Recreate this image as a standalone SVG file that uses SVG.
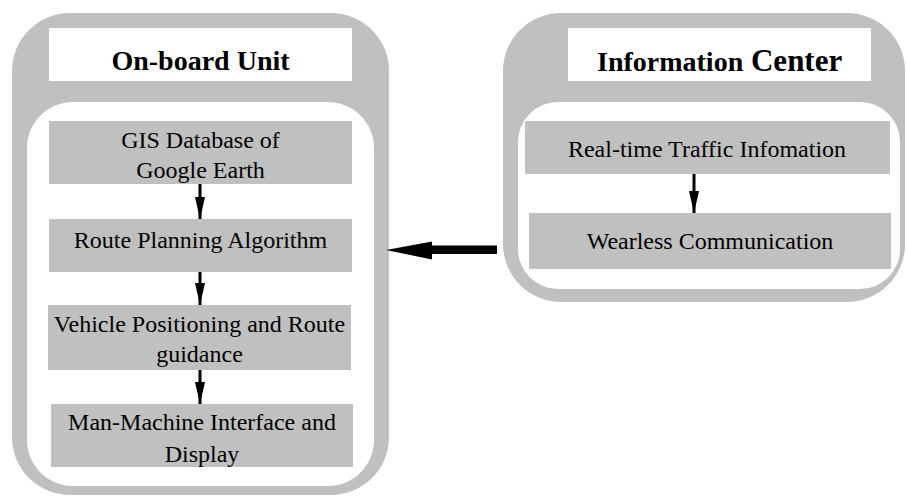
<svg xmlns="http://www.w3.org/2000/svg" width="906" height="496" viewBox="0 0 906 496">
<style>
.outer{fill:#c0c0c0}
.inner{fill:#ffffff}
.box{fill:#c0c0c0}
.title{fill:#ffffff}
.t{font-family:"Liberation Serif","Times New Roman",serif;font-size:24px;fill:#000;text-anchor:middle}
.h{font-family:"Liberation Serif","Times New Roman",serif;font-weight:bold;fill:#000}
.arr{stroke:#000;stroke-width:3;fill:none}
</style>
<defs>
<marker id="ah" markerUnits="userSpaceOnUse" markerWidth="22" markerHeight="12" viewBox="0 0 22 12" refX="22" refY="6" orient="auto">
<path d="M0,1 L22,6 L0,11 Z" fill="#000"/>
</marker>
</defs>
<g id="onboard-unit">
<rect class="outer" x="12" y="13" width="377" height="482" rx="58"/>
<rect class="title" x="49" y="28" width="303" height="53"/>
<text class="h" x="200.5" y="70" font-size="28" text-anchor="middle">On-board Unit</text>
<rect class="inner" x="27" y="102" width="347" height="384" rx="46"/>
</g>
<g id="gis">
<rect class="box" x="49" y="121" width="303" height="63"/>
<text class="t" x="200.5" y="147.5">GIS Database of</text>
<text class="t" x="200.5" y="178">Google Earth</text>
</g>
<g id="route-planning">
<rect class="box" x="49" y="219" width="303" height="53"/>
<text class="t" x="200.5" y="247.5">Route Planning Algorithm</text>
</g>
<g id="vehicle-positioning">
<rect class="box" x="48" y="305" width="303" height="65"/>
<text class="t" x="199.5" y="331.5">Vehicle Positioning and Route</text>
<text class="t" x="199.5" y="361.5">guidance</text>
</g>
<g id="man-machine">
<rect class="box" x="51" y="404" width="302" height="63"/>
<text class="t" x="202" y="430">Man-Machine Interface and</text>
<text class="t" x="202" y="461.5">Display</text>
</g>
<g id="information-center">
<rect class="outer" x="503" y="13" width="402" height="289" rx="58"/>
<rect class="title" x="568" y="28" width="303" height="53"/>
<text class="h" x="597" y="71"><tspan font-size="28">Information</tspan><tspan font-size="31"> Center</tspan></text>
<rect class="inner" x="518" y="102" width="382" height="187" rx="40"/>
</g>
<g id="realtime-traffic">
<rect class="box" x="525" y="121" width="365" height="53"/>
<text class="t" x="707" y="157">Real-time Traffic Infomation</text>
</g>
<g id="wearless">
<rect class="box" x="529" y="213" width="362" height="56"/>
<text class="t" x="710" y="248.5">Wearless Communication</text>
</g>
<g id="connectors">
<line class="arr" x1="200" y1="184" x2="200" y2="219" marker-end="url(#ah)"/>
<line class="arr" x1="200" y1="272" x2="200" y2="305" marker-end="url(#ah)"/>
<line class="arr" x1="200" y1="370" x2="200" y2="404" marker-end="url(#ah)"/>
<line class="arr" x1="694" y1="174" x2="694" y2="213" marker-end="url(#ah)"/>
<polygon points="386,250 432,241.5 432,245.5 497,245.5 497,254 432,254 432,259.5" fill="#000"/>
</g>
</svg>
